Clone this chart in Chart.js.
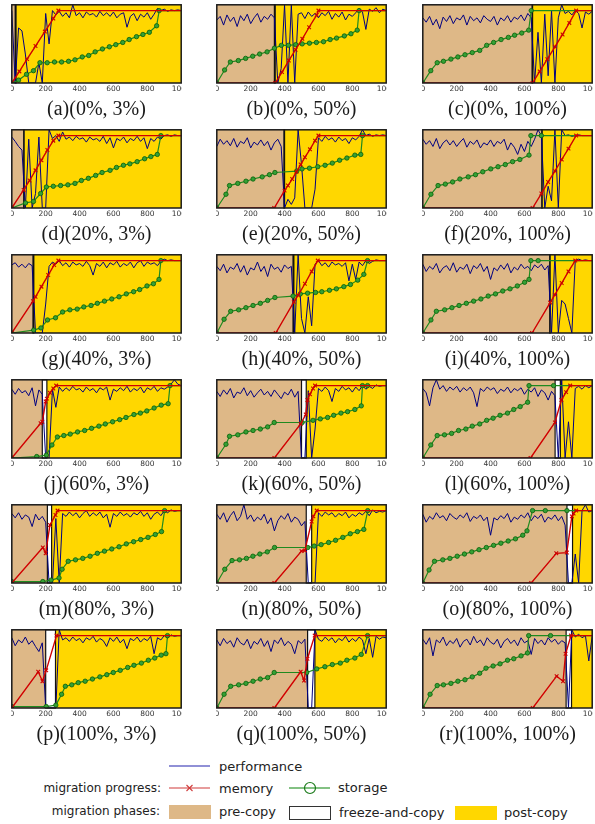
<!DOCTYPE html>
<html lang="en">
<head>
<meta charset="UTF-8">
<title>migration progress</title>
<script src="https://cdn.jsdelivr.net/npm/chart.js"></script>
<style>
  body { margin: 0; width: 595px; height: 824px; overflow: hidden; background: #fff; position: relative; }
  #figure canvas { position: absolute; }
  .cap { position: absolute; width: 200px; text-align: center; font-family: "Liberation Serif", serif; font-size: 20px; line-height: 24px; color: #1a1a1a; }
  #legend { position: absolute; left: 0; top: 750px; }
  #legend text { font-family: "DejaVu Sans", sans-serif; font-size: 13px; fill: #222; }
  #legend text.side { font-size: 12px; }
</style>
</head>
<body>
<div id="figure"></div>

<svg id="legend" width="595" height="74">
  <line x1="169" y1="16" x2="210" y2="16" stroke="#6b6bc8" stroke-width="1.5"/>
  <text x="219" y="16" dominant-baseline="central">performance</text>

  <text class="side" x="161" y="38" text-anchor="end" dominant-baseline="central">migration progress:</text>
  <line x1="169" y1="38" x2="210" y2="38" stroke="#d03a3a" stroke-width="1.2"/>
  <line x1="186.5" y1="35" x2="192.5" y2="41" stroke="#d03a3a" stroke-width="1.1"/>
  <line x1="186.5" y1="41" x2="192.5" y2="35" stroke="#d03a3a" stroke-width="1.1"/>
  <text x="219" y="38" dominant-baseline="central">memory</text>
  <line x1="289" y1="38" x2="330" y2="38" stroke="#5aad5a" stroke-width="1.5"/>
  <circle cx="310" cy="38" r="5.5" fill="none" stroke="#1a7a1a" stroke-width="1.2"/>
  <text x="338" y="37" dominant-baseline="central">storage</text>

  <text class="side" x="160" y="61" text-anchor="end" dominant-baseline="central">migration phases:</text>
  <rect x="169" y="55" width="42" height="14" fill="#deb887"/>
  <text x="219" y="61" dominant-baseline="central">pre-copy</text>
  <rect x="289.5" y="56.5" width="41" height="13" fill="#fff" stroke="#333" stroke-width="1"/>
  <text x="339" y="62" dominant-baseline="central">freeze-and-copy</text>
  <rect x="455" y="56" width="42" height="14" fill="#ffd700"/>
  <text x="504" y="62" dominant-baseline="central">post-copy</text>
</svg>

<script>
  // ---- data (time axis 0..1000, progress in %) ----
  const captions = ['(a)(0%, 3%)', '(b)(0%, 50%)', '(c)(0%, 100%)',
    '(d)(20%, 3%)', '(e)(20%, 50%)', '(f)(20%, 100%)',
    '(g)(40%, 3%)', '(h)(40%, 50%)', '(i)(40%, 100%)',
    '(j)(60%, 3%)', '(k)(60%, 50%)', '(l)(60%, 100%)',
    '(m)(80%, 3%)', '(n)(80%, 50%)', '(o)(80%, 100%)',
    '(p)(100%, 3%)', '(q)(100%, 50%)', '(r)(100%, 100%)'];

  const xTicks = [0, 200, 400, 600, 800, 1000];

  // end of pre-copy and end of freeze-and-copy for each panel
  const preCopyEnd = [20, 340, 645, 70, 396, 702, 125, 450, 749, 180, 500, 781, 210, 528, 851, 200, 536, 846];
  const freezeEnd  = [25, 345, 648, 73, 400, 705, 130, 455, 752, 207, 528, 812, 235, 560, 884, 258, 579, 878];

  const perfX = [0, 20, 40, 60, 80, 100, 120, 140, 160, 180, 200, 220, 240, 260, 280, 300, 320, 340, 360, 380,
    400, 420, 440, 460, 480, 500, 520, 540, 560, 580, 600, 620, 640, 660, 680, 700, 720, 740, 760, 780,
    800, 820, 840, 860, 880, 900, 920, 940, 960, 980, 1000];

  const perf_a = [100, 0, 76, 72, 40, 0, 0, 0, 28, 0, 96, 54, 100, 94, 99, 92, 97, 90, 108, 93,
    97, 90, 98, 94, 96, 91, 99, 93, 97, 92, 98, 90, 95, 97, 77, 92, 96, 86, 95, 91,
    97, 88, 95, 103, 100, 102, 99, 101, 100, 101, 100];
  const perf_b = [87, 92, 80, 94, 85, 91, 78, 93, 86, 95, 82, 90, 96, 84, 92, 88, 95, 90, 0, 20,
    108, 0, 108, 0, 95, 97, 89, 98, 92, 96, 90, 97, 93, 99, 88, 96, 91, 98, 87, 95,
    92, 97, 103, 98, 74, 102, 99, 104, 97, 102, 100];
  const perf_c = [90, 84, 92, 80, 88, 75, 91, 85, 93, 82, 90, 87, 94, 80, 92, 86, 90, 83, 93, 88,
    85, 92, 80, 90, 86, 93, 84, 91, 88, 94, 86, 96, 90, 0, 70, 0, 95, 10, 100, 0,
    90, 108, 96, 99, 94, 100, 96, 76, 98, 95, 99];
  const perf_d = [98, 92, 85, 80, 0, 95, 0, 20, 98, 0, 0, 108, 96, 100, 92, 105, 95, 98, 93, 99,
    95, 97, 91, 98, 94, 96, 92, 99, 89, 97, 83, 96, 93, 98, 90, 96, 93, 99, 92, 97,
    82, 96, 92, 98, 95, 100, 101, 99, 101, 100, 100];
  const perf_e = [85, 95, 88, 93, 86, 96, 84, 92, 89, 97, 83, 91, 87, 94, 86, 92, 80, 90, 95, 85,
    0, 12, 5, 14, 108, 60, 0, 0, 0, 26, 97, 92, 99, 94, 97, 91, 98, 93, 96, 89,
    97, 94, 99, 108, 100, 102, 99, 101, 100, 101, 100];
  const perf_f = [95, 88, 93, 85, 96, 82, 90, 94, 87, 93, 85, 91, 96, 84, 92, 88, 94, 83, 90, 87,
    94, 85, 92, 89, 95, 80, 90, 84, 74, 88, 78, 92, 85, 95, 108, 100, 0, 30, 10, 108,
    0, 108, 100, 101, 99, 100, 101, 100, 100, 100, 100];
  const perf_g = [94, 97, 91, 95, 90, 96, 93, 0, 0, 0, 40, 92, 98, 95, 100, 93, 97, 91, 98, 94,
    96, 92, 99, 93, 80, 96, 92, 98, 90, 97, 94, 99, 91, 96, 93, 98, 90, 97, 100, 92,
    98, 95, 97, 93, 99, 102, 100, 101, 100, 100, 100];
  const perf_h = [92, 86, 95, 83, 91, 88, 96, 84, 93, 80, 90, 87, 98, 85, 92, 78, 95, 88, 91, 84,
    94, 89, 92, 0, 108, 20, 0, 50, 10, 95, 100, 93, 97, 91, 98, 94, 96, 92, 97, 72,
    95, 74, 98, 93, 100, 96, 99, 101, 100, 100, 100];
  const perf_i = [95, 85, 92, 88, 96, 83, 90, 93, 86, 97, 84, 91, 88, 95, 82, 93, 89, 96, 85, 92,
    74, 90, 86, 94, 88, 96, 83, 91, 87, 95, 89, 92, 86, 94, 90, 95, 87, 93, 0, 108,
    0, 45, 40, 20, 0, 100, 102, 100, 101, 100, 100];
  const perf_j = [95, 88, 96, 90, 93, 86, 97, 72, 94, 88, 0, 0, 95, 70, 98, 92, 97, 93, 99, 94,
    96, 91, 98, 93, 96, 90, 97, 94, 98, 80, 95, 92, 97, 93, 99, 91, 96, 93, 98, 90,
    97, 94, 99, 92, 97, 95, 98, 102, 108, 102, 100];
  const perf_k = [92, 85, 94, 88, 96, 83, 91, 89, 97, 86, 93, 84, 90, 95, 87, 92, 85, 94, 88, 82,
    91, 87, 95, 84, 92, 0, 0, 93, 0, 40, 96, 92, 98, 93, 78, 96, 92, 99, 94, 97,
    91, 98, 93, 100, 95, 99, 96, 101, 99, 100, 100];
  const perf_l = [96, 90, 72, 97, 108, 95, 100, 92, 98, 94, 99, 91, 97, 93, 98, 90, 71, 96, 92, 98,
    94, 97, 89, 95, 92, 98, 90, 96, 93, 97, 88, 95, 91, 97, 85, 94, 90, 80, 92, 86,
    0, 108, 0, 50, 0, 96, 99, 95, 100, 97, 100];
  const perf_m = [96, 90, 97, 88, 94, 91, 78, 95, 87, 92, 84, 0, 0, 89, 0, 96, 92, 98, 93, 97,
    90, 96, 100, 92, 97, 93, 98, 90, 95, 77, 96, 92, 98, 93, 96, 91, 97, 94, 99, 92,
    97, 88, 95, 98, 93, 100, 97, 101, 99, 100, 100];
  const perf_n = [95, 88, 97, 84, 93, 99, 86, 92, 108, 88, 94, 85, 91, 87, 95, 82, 90, 72, 86, 93,
    88, 96, 84, 91, 88, 79, 85, 0, 0, 0, 97, 92, 98, 94, 97, 91, 96, 93, 98, 90,
    95, 92, 97, 94, 99, 93, 101, 97, 99, 98, 100];
  const perf_o = [95, 84, 92, 88, 97, 90, 93, 86, 96, 91, 88, 94, 90, 97, 85, 92, 89, 94, 86, 91,
    66, 90, 87, 93, 89, 96, 84, 91, 88, 94, 90, 97, 86, 93, 89, 95, 84, 91, 88, 94,
    86, 92, 80, 0, 0, 40, 0, 100, 108, 98, 100];
  const perf_p = [97, 86, 94, 90, 98, 88, 93, 85, 78, 90, 0, 0, 0, 0, 108, 94, 97, 92, 98, 93,
    96, 90, 97, 94, 99, 91, 96, 93, 85, 97, 92, 98, 90, 95, 82, 96, 93, 98, 91, 96,
    93, 99, 75, 97, 94, 100, 96, 101, 99, 100, 100];
  const perf_q = [94, 86, 96, 89, 93, 84, 97, 90, 87, 95, 82, 92, 88, 96, 85, 93, 78, 94, 89, 97,
    86, 92, 88, 75, 93, 89, 95, 0, 0, 108, 95, 92, 98, 93, 97, 90, 96, 93, 99, 91,
    96, 92, 98, 94, 75, 96, 70, 99, 95, 98, 97];
  const perf_r = [95, 88, 97, 72, 94, 90, 98, 86, 93, 89, 96, 84, 92, 95, 87, 99, 90, 94, 86, 97,
    91, 88, 95, 83, 92, 96, 89, 94, 86, 97, 90, 93, 74, 96, 89, 94, 87, 97, 91, 95,
    88, 93, 90, 0, 108, 98, 102, 97, 100, 65, 99];

  const memX_a = [0, 45, 90, 140, 195, 245, 275, 1000];
  const memY_a = [0, 16, 33, 51, 71, 89, 100, 100];
  const memX_b = [0, 345, 385, 425, 465, 505, 545, 590, 600, 1000];
  const memY_b = [0, 0, 15, 31, 46, 61, 77, 94, 100, 100];
  const memX_c = [0, 648, 690, 735, 780, 825, 865, 905, 1000];
  const memY_c = [0, 0, 16, 33, 50, 67, 83, 100, 100];
  const memX_d = [0, 70, 105, 140, 175, 210, 245, 275, 1000];
  const memY_d = [0, 25, 38, 52, 66, 80, 93, 100, 100];
  const memX_e = [0, 339, 400, 420, 445, 470, 495, 520, 550, 580, 600, 1000];
  const memY_e = [0, 0, 24, 31, 40, 50, 60, 70, 81, 93, 100, 100];
  const memX_f = [0, 648, 700, 740, 780, 820, 860, 905, 1000];
  const memY_f = [0, 0, 20, 36, 51, 67, 82, 100, 100];
  const memX_g = [0, 125, 140, 175, 215, 250, 275, 1000];
  const memY_g = [0, 44, 50, 64, 80, 94, 100, 100];
  const memX_h = [0, 348, 455, 480, 520, 560, 596, 1000];
  const memY_h = [0, 0, 43, 52, 68, 85, 100, 100];
  const memX_i = [0, 645, 752, 780, 820, 860, 900, 1000];
  const memY_i = [0, 0, 42, 53, 69, 85, 100, 100];
  const memX_j = [0, 170, 180, 200, 207, 225, 245, 262, 1000];
  const memY_j = [0, 48, 50, 78, 82, 90, 96, 100, 100];
  const memX_k = [0, 340, 495, 525, 535, 550, 568, 580, 1000];
  const memY_k = [0, 0, 47, 60, 80, 88, 96, 100, 100];
  const memX_l = [0, 636, 780, 818, 846, 870, 1000];
  const memY_l = [0, 0, 49, 80, 91, 100, 100];
  const memX_m = [0, 183, 200, 225, 258, 270, 1000];
  const memY_m = [0, 49, 41, 80, 94, 100, 100];
  const memX_n = [0, 340, 500, 520, 560, 570, 590, 1000];
  const memY_n = [0, 0, 44, 45, 85, 92, 100, 100];
  const memX_o = [0, 640, 788, 850, 880, 890, 905, 1000];
  const memY_o = [0, 0, 41, 42, 92, 96, 100, 100];
  const memX_p = [0, 156, 181, 203, 264, 1000];
  const memY_p = [0, 50, 37, 52, 100, 100];
  const memX_q = [0, 340, 495, 515, 535, 578, 1000];
  const memY_q = [0, 0, 50, 38, 68, 100, 100];
  const memX_r = [0, 649, 790, 828, 843, 875, 1000];
  const memY_r = [0, 0, 44, 37, 75, 100, 100];

  const stoX_a = [0, 40, 87, 128, 166, 209, 252, 294, 335, 373, 416, 454, 492, 535, 576, 614, 655, 693, 736, 774, 812, 855, 870, 1000];
  const stoY_a = [0, 4, 12, 17, 28, 28, 29, 29, 30, 32, 36, 38, 43, 47, 50, 53, 56, 60, 64, 67, 70, 79, 100, 100];
  const stoX_b = [0, 46, 80, 127, 170, 212, 253, 297, 340, 381, 423, 466, 504, 547, 588, 630, 669, 707, 753, 792, 829, 840, 1000];
  const stoY_b = [0, 18, 29, 31, 34, 37, 40, 43, 48, 52, 52, 53, 54, 55, 56, 57, 60, 62, 65, 68, 73, 100, 100];
  const stoX_c = [0, 47, 85, 122, 166, 207, 249, 292, 336, 377, 418, 462, 505, 542, 584, 625, 640, 1000];
  const stoY_c = [0, 17, 28, 30, 33, 36, 39, 42, 45, 52, 56, 60, 63, 66, 69, 73, 100, 100];
  const stoX_d = [0, 81, 128, 170, 204, 245, 288, 331, 373, 411, 452, 495, 533, 580, 618, 659, 697, 740, 784, 821, 859, 880, 1000];
  const stoY_d = [0, 7, 9, 20, 29, 30, 31, 32, 34, 38, 41, 45, 49, 52, 56, 59, 61, 64, 68, 71, 74, 100, 100];
  const stoX_e = [0, 54, 75, 124, 172, 214, 268, 311, 343, 472, 503, 547, 596, 639, 682, 725, 768, 815, 850, 860, 1000];
  const stoY_e = [0, 19, 31, 34, 37, 40, 43, 46, 49, 51, 54, 55, 57, 59, 62, 66, 69, 73, 74, 100, 100];
  const stoX_f = [0, 48, 90, 133, 176, 219, 268, 311, 354, 401, 444, 487, 530, 573, 627, 638, 700, 1000];
  const stoY_f = [0, 19, 31, 33, 36, 40, 43, 46, 50, 54, 57, 60, 64, 67, 73, 100, 100, 100];
  const stoX_g = [0, 129, 172, 211, 258, 300, 343, 386, 425, 468, 505, 547, 590, 633, 676, 719, 755, 798, 836, 869, 880, 1000];
  const stoY_g = [0, 4, 7, 18, 21, 29, 32, 33, 36, 38, 41, 44, 47, 50, 54, 57, 60, 65, 68, 74, 100, 100];
  const stoX_h = [0, 43, 82, 129, 172, 214, 257, 300, 343, 450, 493, 536, 583, 620, 665, 706, 750, 789, 832, 868, 890, 1000];
  const stoY_h = [0, 19, 30, 32, 35, 38, 41, 45, 49, 51, 54, 55, 56, 57, 59, 61, 64, 67, 73, 81, 100, 100];
  const stoX_i = [0, 48, 80, 129, 172, 214, 257, 300, 343, 386, 429, 472, 515, 558, 601, 627, 638, 681, 1000];
  const stoY_i = [0, 18, 30, 32, 35, 38, 41, 44, 47, 51, 54, 58, 61, 65, 70, 74, 100, 100, 100];
  const stoX_j = [0, 147, 204, 237, 269, 307, 345, 388, 430, 471, 514, 552, 595, 637, 674, 721, 759, 797, 840, 882, 923, 934, 1000];
  const stoY_j = [0, 2, 4, 18, 29, 31, 33, 36, 38, 41, 44, 47, 50, 53, 56, 60, 62, 65, 69, 73, 75, 100, 100];
  const stoX_k = [0, 54, 75, 124, 172, 214, 257, 300, 339, 504, 568, 611, 654, 690, 733, 772, 815, 853, 860, 890, 1000];
  const stoY_k = [0, 19, 30, 32, 36, 38, 40, 43, 49, 49, 52, 54, 56, 59, 62, 64, 67, 72, 100, 100, 100];
  const stoX_l = [0, 47, 85, 128, 170, 211, 254, 292, 336, 377, 415, 456, 500, 537, 575, 619, 627, 772, 1000];
  const stoY_l = [0, 18, 31, 32, 34, 38, 40, 44, 47, 52, 55, 59, 62, 67, 71, 77, 100, 100, 100];
  const stoX_m = [0, 183, 232, 279, 297, 333, 376, 419, 462, 505, 547, 590, 633, 676, 719, 761, 804, 847, 884, 902, 1000];
  const stoY_m = [2, 2, 4, 7, 19, 30, 32, 34, 37, 41, 44, 47, 50, 54, 57, 60, 63, 67, 71, 100, 100];
  const stoX_n = [0, 47, 90, 134, 175, 213, 254, 298, 341, 537, 575, 616, 660, 701, 744, 788, 830, 868, 891, 1000];
  const stoY_n = [0, 19, 31, 32, 34, 37, 40, 43, 49, 49, 51, 53, 56, 59, 63, 68, 71, 74, 100, 100];
  const stoX_o = [0, 37, 69, 118, 160, 203, 246, 289, 332, 375, 418, 461, 504, 547, 590, 615, 648, 723, 851, 1000];
  const stoY_o = [0, 18, 30, 32, 34, 37, 40, 43, 46, 49, 52, 55, 58, 61, 66, 72, 100, 100, 100, 100];
  const stoX_p = [0, 203, 260, 294, 316, 354, 392, 433, 476, 520, 561, 599, 640, 684, 721, 765, 806, 844, 882, 910, 919, 1000];
  const stoY_p = [2, 2, 4, 19, 30, 32, 35, 37, 40, 43, 46, 49, 52, 56, 59, 62, 66, 69, 73, 75, 100, 100];
  const stoX_q = [0, 43, 82, 129, 172, 214, 257, 300, 339, 531, 590, 638, 682, 729, 768, 815, 853, 890, 1000];
  const stoY_q = [0, 19, 30, 32, 34, 37, 40, 42, 49, 49, 54, 57, 60, 62, 66, 69, 74, 100, 100];
  const stoX_r = [0, 43, 85, 122, 166, 207, 249, 292, 336, 373, 415, 456, 500, 537, 580, 618, 625, 754, 1000];
  const stoY_r = [0, 19, 31, 32, 34, 37, 39, 43, 48, 55, 58, 61, 66, 68, 72, 76, 100, 100, 100];

  const perfSeries = [perf_a, perf_b, perf_c, perf_d, perf_e, perf_f, perf_g, perf_h, perf_i,
    perf_j, perf_k, perf_l, perf_m, perf_n, perf_o, perf_p, perf_q, perf_r];
  const memXs = [memX_a, memX_b, memX_c, memX_d, memX_e, memX_f, memX_g, memX_h, memX_i,
    memX_j, memX_k, memX_l, memX_m, memX_n, memX_o, memX_p, memX_q, memX_r];
  const memYs = [memY_a, memY_b, memY_c, memY_d, memY_e, memY_f, memY_g, memY_h, memY_i,
    memY_j, memY_k, memY_l, memY_m, memY_n, memY_o, memY_p, memY_q, memY_r];
  const stoXs = [stoX_a, stoX_b, stoX_c, stoX_d, stoX_e, stoX_f, stoX_g, stoX_h, stoX_i,
    stoX_j, stoX_k, stoX_l, stoX_m, stoX_n, stoX_o, stoX_p, stoX_q, stoX_r];
  const stoYs = [stoY_a, stoY_b, stoY_c, stoY_d, stoY_e, stoY_f, stoY_g, stoY_h, stoY_i,
    stoY_j, stoY_k, stoY_l, stoY_m, stoY_n, stoY_o, stoY_p, stoY_q, stoY_r];

  // ---- layout ----
  const plotW = 177, plotH = 81, axisH = 14;
  const colLeft = [8, 213, 419];
  const rowTop = [2, 127, 252, 377, 502, 627];

  function pairs(xs, ys) {
    return xs.map((x, i) => ({ x: x, y: ys[i] }));
  }

  // phase backgrounds + plot frame; tick labels get cut at the frame like the cropped subfigures
  const phasePlugin = {
    id: 'phases',
    beforeDraw(chart) {
      const ctx = chart.ctx, a = chart.chartArea;
      ctx.save();
      ctx.beginPath();
      ctx.rect(a.left - 0.8, 0, a.right - a.left + 1.6, chart.height);
      ctx.clip();
    },
    beforeDatasetsDraw(chart, args, opts) {
      const ctx = chart.ctx, a = chart.chartArea, x = chart.scales.x;
      const p = x.getPixelForValue(opts.pre), f = x.getPixelForValue(opts.freeze);
      ctx.save();
      ctx.fillStyle = '#deb887';
      ctx.fillRect(a.left, a.top, p - a.left, a.bottom - a.top);
      ctx.fillStyle = '#ffd700';
      ctx.fillRect(f, a.top, a.right - f, a.bottom - a.top);
      ctx.fillStyle = '#ffffff';
      ctx.fillRect(p, a.top, f - p, a.bottom - a.top);
      ctx.strokeStyle = '#111';
      ctx.lineWidth = 1.2;
      ctx.strokeRect(p, a.top, f - p, a.bottom - a.top);
      ctx.restore();
    },
    afterDatasetsDraw(chart) {
      const ctx = chart.ctx, a = chart.chartArea;
      ctx.save();
      ctx.strokeStyle = '#1a1a1a';
      ctx.lineWidth = 1.5;
      ctx.strokeRect(a.left, a.top, a.right - a.left, a.bottom - a.top);
      ctx.restore();
    },
    afterDraw(chart) {
      chart.ctx.restore();
    }
  };

  const fig = document.getElementById('figure');

  captions.forEach((cap, k) => {
    const col = k % 3, row = Math.floor(k / 3);
    const cv = document.createElement('canvas');
    cv.width = plotW + 2;
    cv.height = plotH + 2 + axisH;
    cv.style.left = (colLeft[col] - 1) + 'px';
    cv.style.top = (rowTop[row] - 2) + 'px';
    fig.appendChild(cv);

    const memData = pairs(memXs[k], memYs[k]);
    const stoData = pairs(stoXs[k], stoYs[k]);

    new Chart(cv, {
      type: 'line',
      data: {
        datasets: [{
          label: 'memory',
          data: memData,
          borderColor: '#d10000',
          borderWidth: 1.4,
          pointStyle: 'crossRot',
          pointRadius: c => (c.dataIndex === 0 || c.dataIndex === memData.length - 1) ? 0 : 2.6,
          pointBorderColor: '#cc0000',
          pointBorderWidth: 1.1,
          tension: 0
        }, {
          label: 'storage',
          data: stoData,
          borderColor: '#1f8a1f',
          borderWidth: 1.2,
          pointStyle: 'circle',
          pointRadius: c => c.dataIndex === stoData.length - 1 ? 0 : 2.2,
          pointBackgroundColor: '#35a035',
          pointBorderColor: '#0a5f0a',
          pointBorderWidth: 0.8,
          tension: 0
        }, {
          label: 'performance',
          data: pairs(perfX, perfSeries[k]),
          borderColor: '#000080',
          borderWidth: 1,
          pointRadius: 0,
          tension: 0
        }]
      },
      options: {
        responsive: false,
        animation: false,
        events: [],
        layout: { padding: { left: 1, right: 1, top: 2, bottom: 0 } },
        plugins: {
          legend: { display: false },
          tooltip: { enabled: false },
          phases: { pre: preCopyEnd[k], freeze: freezeEnd[k] }
        },
        scales: {
          x: {
            type: 'linear',
            min: 0,
            max: 1000,
            grid: { display: false, drawTicks: false },
            border: { display: false },
            afterBuildTicks: s => { s.ticks = xTicks.map(v => ({ value: v })); },
            ticks: {
              maxRotation: 0,
              autoSkip: false,
              padding: 2,
              color: '#333',
              font: { family: 'DejaVu Sans', size: 7.5 },
              callback: v => String(v)
            },
            afterFit: s => { s.paddingLeft = 0; s.paddingRight = 0; s.height = axisH; }
          },
          y: { display: false, min: 0, max: 108 }
        }
      },
      plugins: [phasePlugin]
    });

    const d = document.createElement('div');
    d.className = 'cap';
    d.textContent = cap;
    d.style.left = (colLeft[col] + plotW / 2 - 100) + 'px';
    d.style.top = (rowTop[row] + 106 - 12) + 'px';
    fig.appendChild(d);
  });
</script>
</body>
</html>
